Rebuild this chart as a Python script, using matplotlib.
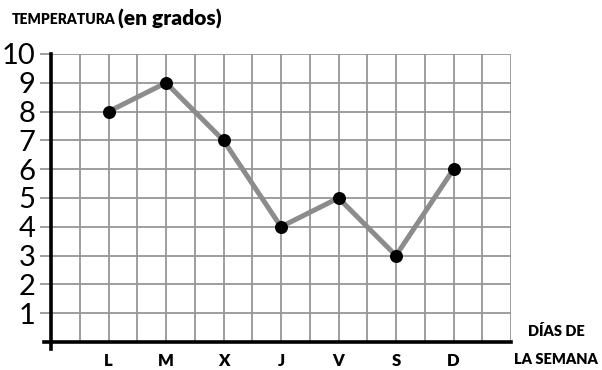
import matplotlib.pyplot as plt

# temperatura diaria de la semana
dias = ["L", "M", "X", "J", "V", "S", "D"]
temperaturas = [8, 9, 7, 4, 5, 3, 6]
posiciones = [2, 4, 6, 8, 10, 12, 14]

W, H = 602, 370
fig = plt.figure(figsize=(W / 100, H / 100), dpi=100)
ax = fig.add_axes([51 / W, (H - 342) / H, 460 / W, 288 / H])

ax.set_xlim(0, 16)
ax.set_ylim(0, 10)

# cuadricula gris
for x in range(1, 17):
    ax.axvline(x, color="#969696", lw=1.3, zorder=1)
for y in range(1, 11):
    ax.axhline(y, color="#969696", lw=1.3, zorder=1)

ax.plot(posiciones, temperaturas, color="#8c8c8c", lw=3.6, zorder=2,
        solid_capstyle="round")
ax.scatter(posiciones, temperaturas, s=70, color="black", zorder=3)

for s in ["top", "right"]:
    ax.spines[s].set_visible(False)
ax.spines["left"].set_linewidth(2.6)
ax.spines["bottom"].set_linewidth(2.6)
ax.spines["left"].set_bounds(-0.25, 10)
ax.spines["bottom"].set_bounds(-0.25, 16)
ax.spines["left"].set_zorder(4)
ax.spines["bottom"].set_zorder(4)

ax.set_yticks(range(1, 11))
ax.set_yticklabels([str(v) for v in range(1, 11)], fontsize=21,
                   family="Lato", fontweight="normal")
ax.tick_params(axis="y", length=8, width=1.3, color="#969696", pad=3)
ax.set_xticks(posiciones)
ax.set_xticklabels(dias, fontsize=12, family="Lato", fontweight="heavy")
ax.tick_params(axis="x", length=0, pad=8)

fig.text(12 / W, 1 - 20 / H, "TEMPERATURA", fontsize=10, family="Lato",
         fontweight="heavy", va="center", ha="left")
fig.text(118 / W, 1 - 19 / H, "(en grados)", fontsize=15, family="Lato",
         fontweight="heavy", va="center", ha="left")
fig.text(556 / W, 1 - 331 / H, "DÍAS DE", fontsize=10.5, family="Lato",
         fontweight="heavy", va="center", ha="center")
fig.text(556 / W, 1 - 359 / H, "LA SEMANA", fontsize=10.5, family="Lato",
         fontweight="heavy", va="center", ha="center")

fig.savefig("out.png", dpi=100)
